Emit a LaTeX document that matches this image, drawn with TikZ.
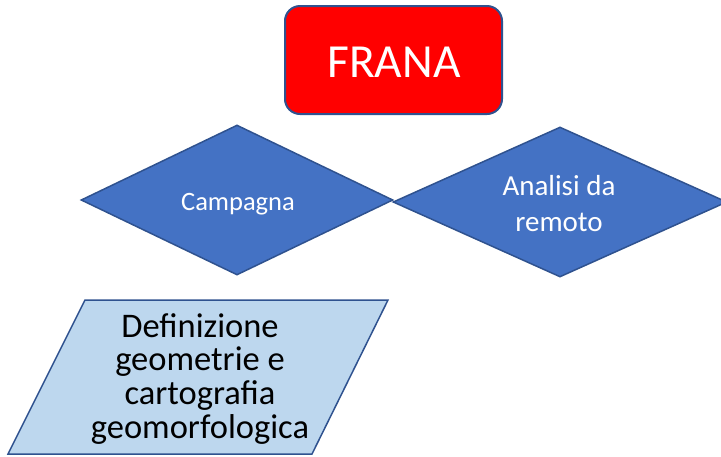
\documentclass[tikz,border=0pt]{standalone}
\usepackage{fontspec}
\setmainfont{Carlito}
\usetikzlibrary{shapes.geometric}
\definecolor{bordblue}{HTML}{2F528F}
\definecolor{fillblue}{HTML}{4472C4}
\definecolor{lightblue}{HTML}{BDD7EE}
\begin{document}
\begin{tikzpicture}[x=1pt,y=-1pt,
  dia/.style={diamond, draw=bordblue, fill=fillblue, line width=1.5pt, inner sep=0pt,
    minimum width=312pt, minimum height=150pt},
  titlebox/.style={rectangle, rounded corners=15pt, draw=bordblue, fill=red, line width=2pt,
    minimum width=217pt, minimum height=108pt},
  parbox/.style={draw=bordblue, fill=lightblue, line width=1.5pt},
  wlabel/.style={anchor=base, inner sep=0pt, text=white, font=\fontsize{26.5}{32}\selectfont},
  blabel/.style={anchor=base, inner sep=0pt, text=black, font=\fontsize{34.5}{40}\selectfont}]
\useasboundingbox (0,0) rectangle (721,456);
\begin{scope}
\clip (0,0) rectangle (721,456);
\node[titlebox] (frana) at (393.5,60) {};
\node[anchor=base, inner sep=0pt, text=white, font=\fontsize{47.5}{56}\selectfont] (franat) at (394,77) {FRANA};
\node[dia] (camp) at (237,200) {};
\node[dia, minimum width=334pt] (anal) at (560,202) {};
\node[wlabel] (campt) at (238,210) {Campagna};
\node[wlabel, font=\fontsize{29}{34}\selectfont] (anal1) at (559,195) {Analisi da};
\node[wlabel, font=\fontsize{29}{34}\selectfont] (anal2) at (559,231) {remoto};
\coordinate (p1) at (85,300);
\coordinate (p2) at (388,300);
\coordinate (p3) at (312,454);
\coordinate (p4) at (8,454);
\draw[parbox] (p1) -- (p2) -- (p3) -- (p4) -- cycle;
\node[blabel] (d1) at (200,337) {Definizione};
\node[blabel] (d2) at (200,370) {geometrie e};
\node[blabel] (d3) at (200,404) {cartografia};
\node[blabel] (d4) at (200,438) {geomorfologica};
\end{scope}
\end{tikzpicture}
\end{document}
